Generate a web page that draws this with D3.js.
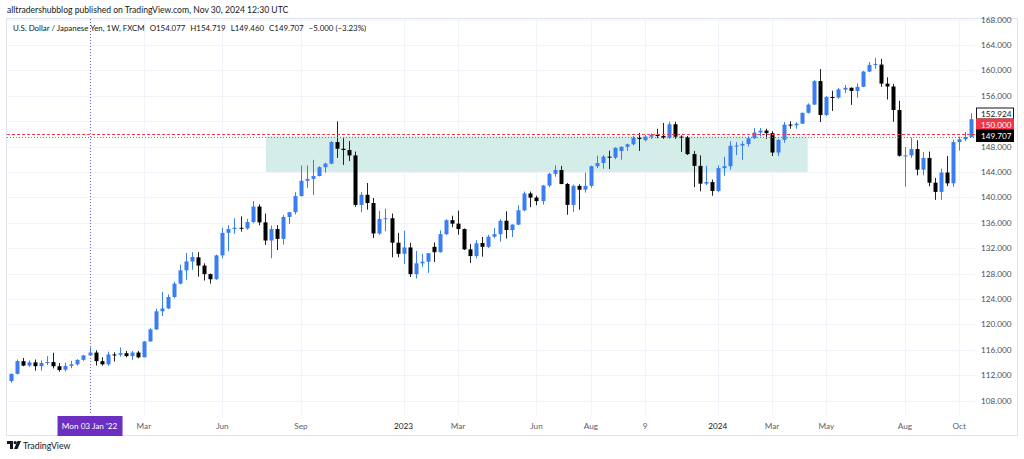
<!DOCTYPE html>
<html>
<head>
<meta charset="utf-8">
<script src="https://cdn.jsdelivr.net/npm/d3@7"></script>
<style>
  html, body { margin: 0; padding: 0; background: #ffffff; }
  svg { display: block; }
  text { font-family: "Lato", "Open Sans", sans-serif; }
</style>
</head>
<body>
<svg id="chart" width="1024" height="459"></svg>
<script>
// ---------------- DATA (weekly USD/JPY, FXCM) ----------------
const weekStart = "2021-10-04"; // first visible weekly bar
const open = [
  111.05,112.20,114.20,113.50,114.00,113.40,113.90,114.05,113.40,112.85,
  113.45,113.70,114.40,115.10,115.55,114.20,113.70,115.25,115.20,115.45,
  115.00,115.55,114.80,117.30,119.20,122.05,122.50,124.30,126.40,128.50,
  129.90,130.55,129.25,127.90,127.10,130.85,134.40,135.00,135.20,135.10,
  136.10,138.55,136.05,133.20,135.00,133.45,136.90,137.65,140.20,142.60,
  142.90,143.35,144.75,145.30,148.70,147.65,147.45,146.60,138.80,140.40,
  139.10,134.30,136.60,136.70,132.85,131.10,132.10,127.90,129.60,129.85,
  132.20,131.35,134.20,136.40,135.85,135.00,131.80,130.75,132.80,132.20,
  133.80,134.20,136.30,134.85,135.70,137.95,140.60,139.95,139.40,141.85,
  143.70,144.30,142.10,138.80,141.80,141.20,141.80,144.90,145.40,146.40,
  146.25,147.30,147.95,148.35,149.35,149.00,149.55,149.85,149.65,149.40,
  151.50,149.55,149.45,146.80,144.95,142.15,142.40,141.00,144.60,144.90,
  148.10,148.15,148.40,149.30,150.20,150.50,150.10,147.05,149.05,151.45,
  151.35,151.60,153.30,154.60,158.30,152.95,155.80,155.70,156.95,157.25,
  156.75,157.40,159.80,160.85,160.90,157.90,157.45,153.75,146.55,146.60,
  147.60,144.35,146.20,142.30,140.85,143.90,142.20,148.70,149.15,149.50
];
const high = [
  112.25,114.45,114.70,114.30,114.45,114.30,114.97,115.52,113.90,113.95,
  114.25,114.50,115.20,116.35,115.90,114.80,115.70,115.60,116.35,115.80,
  115.80,115.80,117.35,119.40,122.45,125.10,124.70,126.70,129.40,131.25,
  131.35,131.35,129.60,128.00,130.98,135.20,135.60,136.70,137.00,136.60,
  139.40,138.90,137.45,135.55,135.60,137.20,137.70,140.80,145.00,145.00,
  145.90,144.90,145.45,148.85,151.95,149.30,148.85,147.20,140.80,142.25,
  139.90,137.85,138.20,137.45,134.40,134.75,132.85,131.55,131.10,131.20,
  132.90,134.80,136.55,137.10,137.90,135.10,132.65,133.25,133.75,134.10,
  135.15,136.55,137.80,135.75,138.75,140.90,140.90,140.25,141.95,143.85,
  145.05,144.95,142.25,142.00,142.05,143.90,145.00,146.55,146.65,147.35,
  147.85,148.00,148.45,149.70,150.15,149.80,150.05,150.80,151.70,151.90,
  151.90,149.75,149.65,147.30,146.60,144.95,142.80,145.00,146.40,148.80,
  148.70,148.80,149.60,150.90,150.90,150.80,150.40,149.20,151.85,151.97,
  151.80,153.35,154.80,158.45,160.20,155.95,156.80,157.20,157.70,157.30,
  157.95,159.90,161.30,161.95,161.80,158.90,157.85,155.20,147.90,149.40,
  149.00,147.10,147.20,143.05,144.50,146.50,149.10,149.55,150.30,153.20
];
const low = [
  110.80,112.10,113.40,113.30,112.70,112.70,113.60,113.05,112.55,112.60,
  113.10,113.50,114.25,115.00,113.50,113.50,113.45,114.15,114.90,114.80,
  114.40,114.65,114.80,117.25,119.10,121.30,122.40,124.10,126.30,127.00,
  128.60,127.50,126.90,126.40,127.00,130.40,131.50,134.25,134.60,134.90,
  135.90,135.60,132.50,130.40,131.70,132.55,135.80,137.30,140.10,141.50,
  140.35,143.30,143.90,145.20,146.20,145.10,145.70,138.50,137.65,138.05,
  133.60,134.10,134.65,130.55,130.55,129.50,127.45,127.20,129.00,128.10,
  129.80,131.30,134.05,135.30,134.10,131.70,129.65,130.40,130.65,132.00,
  133.55,133.00,133.50,133.75,135.60,137.80,138.45,138.75,138.85,141.60,
  143.25,142.05,137.25,137.70,138.05,140.75,141.50,144.60,144.50,144.45,
  146.00,145.90,147.30,148.15,147.30,148.80,149.20,149.30,149.20,149.20,
  149.20,147.15,146.65,141.60,140.95,141.90,140.25,140.80,143.40,144.35,
  146.65,145.90,148.00,149.20,149.60,149.20,146.50,146.50,148.60,150.80,
  150.80,151.55,153.20,154.55,151.85,152.80,153.60,155.55,156.40,154.55,
  155.70,157.35,159.70,160.25,157.40,155.40,151.90,146.40,141.70,146.20,
  143.45,143.45,141.75,139.60,139.60,141.75,141.65,147.35,148.85,149.45
];
const close = [
  112.20,114.20,113.50,114.00,113.40,113.90,114.05,113.40,112.80,113.45,
  113.70,114.40,115.10,115.55,114.20,113.70,115.25,115.20,115.45,115.00,
  115.55,114.80,117.30,119.20,122.05,122.50,124.30,126.40,128.50,129.90,
  130.60,129.25,127.90,127.10,130.85,134.40,135.00,135.20,135.10,136.10,
  138.55,136.05,133.20,135.00,133.45,136.90,137.65,140.20,142.60,142.90,
  143.35,144.75,145.30,148.70,147.65,147.45,146.60,138.80,140.40,139.10,
  134.30,136.60,136.70,132.85,131.10,132.10,127.90,129.60,129.85,131.20,
  131.35,134.20,136.40,135.85,135.00,131.80,130.75,132.75,132.20,133.80,
  134.20,136.30,134.85,135.70,137.95,140.60,139.95,139.40,141.85,143.70,
  144.30,142.10,138.80,141.80,141.20,141.80,144.90,145.40,146.40,146.25,
  147.80,147.95,148.35,149.35,149.25,149.55,149.85,149.65,149.40,151.50,
  149.55,149.45,146.80,144.95,142.15,142.40,141.00,144.60,144.90,148.10,
  148.15,148.40,149.30,150.20,150.50,150.10,147.05,149.05,151.45,151.35,
  151.60,153.30,154.60,158.30,152.95,155.80,155.70,157.00,157.25,156.75,
  157.40,159.80,160.85,161.00,157.90,157.45,153.75,146.55,146.60,147.60,
  144.35,146.20,142.30,140.85,143.90,142.20,148.70,149.15,149.50,152.30
];
// price axis ticks
const priceTicks = [108,112,116,120,124,128,132,136,140,144,148,156,160,164,168];
// time axis ticks: bar index and label
const timeTickIdx    = [22, 35, 48, 65, 74, 87, 96, 105, 117, 126, 135, 148, 157];
const timeTickLabels = ["Mar","Jun","Sep","2023","Mar","Jun","Aug","9","2024","Mar","May","Aug","Oct"];
const yearLabels = ["2023","2024"];
// drawings
const zoneStartIdx = 42.2, zoneEndIdx = 131.9;
const zoneTop = 149.6, zoneBottom = 144.0;
const alertLevel = 150.0;
const lastPrice = 149.707;
const markLevel = 152.924;
const crosshairIdx = 13;
const crosshairLabel = "Mon 03 Jan '22";
const headerText = "alltradershubblog published on TradingView.com, Nov 30, 2024 12:30 UTC";
const symbolText = "U.S. Dollar / Japanese Yen, 1W, FXCM";
const ohlcText = ["O154.077", "H154.719", "L149.460", "C149.707", "\u22125.000 (\u22123.23%)"];

// ---------------- LAYOUT ----------------
const frame = {x0: 6.5, y0: 18.5, x1: 1017.5, y1: 435.5};
const plot = {x0: 7, x1: 975, y0: 19, y1: 415};
const UP = "#3a7ef2", DOWN = "#000000";

const svg = d3.select("#chart");
const bars = d3.range(open.length).map(i => ({i, o: open[i], h: high[i], l: low[i], c: close[i]}));

const x = d3.scaleLinear().domain([0, 159]).range([11, 11 + 159 * 6.04]);
const y = d3.scaleLinear().domain([108, 168]).range([400.5, 19.5]);

// header
svg.append("text").attr("x", 7).attr("y", 12.5).attr("font-size", 8.6)
  .attr("fill", "#131722").text(headerText);

// frame
svg.append("rect").attr("x", frame.x0).attr("y", frame.y0)
  .attr("width", frame.x1 - frame.x0).attr("height", frame.y1 - frame.y0)
  .attr("fill", "#fff").attr("stroke", "#e0e3eb").attr("stroke-width", 1);

svg.append("defs").append("clipPath").attr("id", "plotclip")
  .append("rect").attr("x", plot.x0).attr("y", plot.y0)
  .attr("width", plot.x1 - plot.x0).attr("height", plot.y1 - plot.y0);

const g = svg.append("g").attr("clip-path", "url(#plotclip)");

// grid
g.selectAll("line.hgrid").data(d3.range(108, 172, 4)).join("line")
  .attr("x1", plot.x0).attr("x2", plot.x1)
  .attr("y1", d => Math.round(y(d)) + 0.5).attr("y2", d => Math.round(y(d)) + 0.5)
  .attr("stroke", "#f0f3fa").attr("stroke-width", 1);
g.selectAll("line.vgrid").data(timeTickIdx).join("line")
  .attr("x1", d => Math.round(x(d)) + 0.5).attr("x2", d => Math.round(x(d)) + 0.5)
  .attr("y1", plot.y0).attr("y2", plot.y1)
  .attr("stroke", "#f0f3fa").attr("stroke-width", 1);

// zone rectangle
g.append("rect")
  .attr("x", x(zoneStartIdx)).attr("width", x(zoneEndIdx) - x(zoneStartIdx))
  .attr("y", y(zoneTop)).attr("height", y(zoneBottom) - y(zoneTop))
  .attr("fill", "#d4ede8");

// candles
const cw = 4;
const cg = g.append("g");
cg.selectAll("line.wick").data(bars).join("line")
  .attr("x1", d => Math.round(x(d.i)) + 0.5).attr("x2", d => Math.round(x(d.i)) + 0.5)
  .attr("y1", d => y(d.h)).attr("y2", d => y(d.l))
  .attr("stroke", d => d.c >= d.o ? UP : "#222").attr("stroke-width", 1);
cg.selectAll("rect.body").data(bars).join("rect")
  .attr("x", d => Math.round(x(d.i)) - 1.5).attr("width", cw)
  .attr("y", d => y(Math.max(d.o, d.c)))
  .attr("height", d => Math.max(1, Math.abs(y(d.o) - y(d.c))))
  .attr("fill", d => d.c >= d.o ? UP : DOWN);

// alert line (150) and last price line
g.append("line").attr("x1", plot.x0).attr("x2", plot.x1)
  .attr("y1", Math.round(y(alertLevel)) + 0.5).attr("y2", Math.round(y(alertLevel)) + 0.5)
  .attr("stroke", "#f23645").attr("stroke-width", 1).attr("stroke-dasharray", "3,2");
g.append("line").attr("x1", plot.x0).attr("x2", plot.x1)
  .attr("y1", Math.round(y(lastPrice)) + 1.5).attr("y2", Math.round(y(lastPrice)) + 1.5)
  .attr("stroke", "#787b86").attr("stroke-width", 1).attr("stroke-dasharray", "1,2");

// crosshair
svg.append("line").attr("x1", Math.round(x(crosshairIdx)) + 0.5).attr("x2", Math.round(x(crosshairIdx)) + 0.5)
  .attr("y1", plot.y0).attr("y2", plot.y1)
  .attr("stroke", "#7e57c2").attr("stroke-width", 1).attr("stroke-dasharray", "1,2");

// price axis labels
svg.selectAll("text.ptick").data(priceTicks).join("text")
  .attr("x", 981).attr("y", d => y(d) + 3)
  .attr("font-size", 8.2).attr("fill", "#4a4e59").text(d => d.toFixed(3));

// price label boxes
function priceBox(yTop, h, fill, stroke, txtColor, label) {
  svg.append("rect").attr("x", 976.5).attr("y", yTop + 0.5).attr("width", 37).attr("height", h)
    .attr("fill", fill).attr("stroke", stroke).attr("stroke-width", 1);
  svg.append("text").attr("x", 981).attr("y", yTop + h / 2 + 3.5)
    .attr("font-size", 8.2).attr("fill", txtColor).text(label);
}
priceBox(107.5, 11, "#ffffff", "#131722", "#131722", markLevel.toFixed(3));
priceBox(118.5, 11, "#f23645", "#f23645", "#ffffff", alertLevel.toFixed(3));
priceBox(129.5, 11.5, "#000000", "#000000", "#ffffff", lastPrice.toFixed(3));

// time axis labels
svg.selectAll("text.ttick").data(timeTickIdx).join("text")
  .attr("x", d => x(d)).attr("y", 429)
  .attr("text-anchor", "middle").attr("font-size", 8.2)
  .attr("fill", (d, k) => yearLabels.includes(timeTickLabels[k]) ? "#131722" : "#5d606b")
  .text((d, k) => timeTickLabels[k]);

// crosshair time label
const chx = x(crosshairIdx);
svg.append("rect").attr("x", chx - 32).attr("y", 416).attr("width", 65).attr("height", 20)
  .attr("fill", "#6d2fc2");
svg.append("text").attr("x", chx).attr("y", 429).attr("text-anchor", "middle")
  .attr("font-size", 8.2).attr("fill", "#ffffff").text(crosshairLabel);

// legend
const leg = svg.append("text").attr("x", 13).attr("y", 31).attr("font-size", 7.9).attr("fill", "#131722");
leg.append("tspan").text(symbolText);
ohlcText.forEach(t => leg.append("tspan").attr("dx", 5).text(t));

// TradingView logo + text
const logo = svg.append("g").attr("transform", "translate(7,441)").attr("fill", "#131722");
logo.append("path").attr("d", "M0,0 H6 V8 H3 V3 H0 Z");
logo.append("circle").attr("cx", 8.2).attr("cy", 1.6).attr("r", 1.6);
logo.append("path").attr("d", "M10.5,0 H14 L10.5,8 H7 Z");
svg.append("text").attr("x", 23).attr("y", 449).attr("font-size", 8.8).attr("fill", "#131722").text("TradingView");
</script>
</body>
</html>
